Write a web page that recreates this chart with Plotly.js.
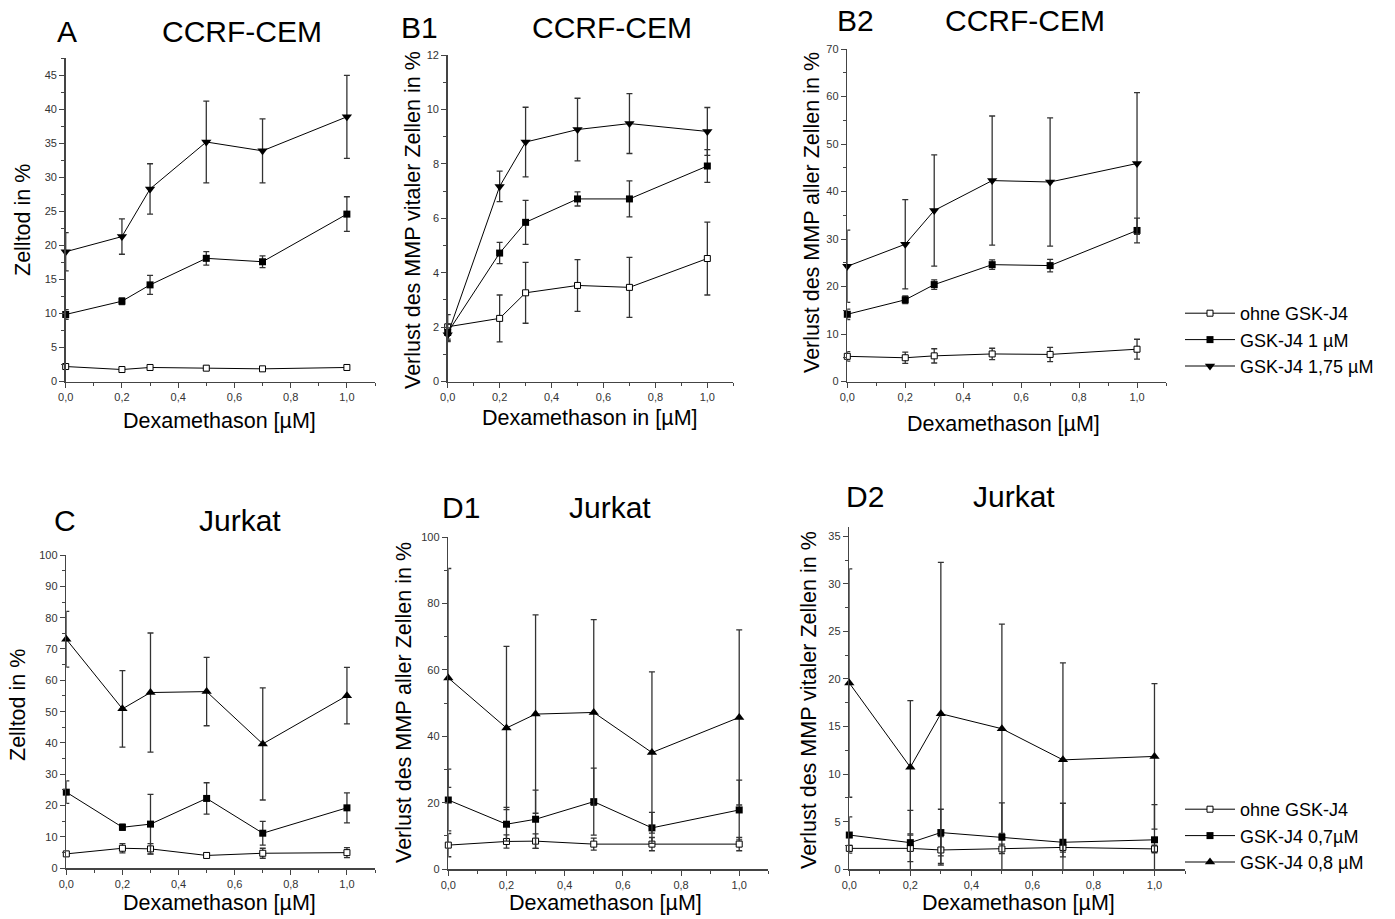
<!DOCTYPE html>
<html>
<head>
<meta charset="utf-8">
<script src="https://cdn.plot.ly/plotly-3.0.1.min.js"></script>
<style>html,body{margin:0;padding:0;background:#fff;}#chart{width:1395px;height:919px;}</style>
</head>
<body>
<div id="chart"></div>
<script>
// ---------- data ----------
const dexa = [0, 0.2, 0.3, 0.5, 0.7, 1.0];

// Panel A: CCRF-CEM, Zelltod
const A_ohne = [2.2, 1.76, 2.06, 1.96, 1.86, 2.06];
const A_ohne_err = [0.3, 0.25, 0.3, 0.3, 0.25, 0.3];
const A_gsk1 = [9.85, 11.8, 14.2, 18.1, 17.6, 24.6];
const A_gsk1_err = [0.7, 0.5, 1.4, 1.0, 0.85, 2.55];
const A_gsk175 = [19.07, 21.3, 28.3, 35.2, 33.9, 38.9];
const A_gsk175_err = [2.8, 2.6, 3.7, 6.0, 4.7, 6.1];

// Panel B1: CCRF-CEM, MMP vitaler Zellen
const B1_ohne = [2.01, 2.32, 3.26, 3.53, 3.46, 4.52];
const B1_ohne_err = [0.45, 0.86, 1.12, 0.95, 1.1, 1.34];
const B1_gsk1 = [1.8, 4.72, 5.85, 6.71, 6.71, 7.92];
const B1_gsk1_err = [0.3, 0.39, 0.81, 0.26, 0.66, 0.6];
const B1_gsk175 = [1.72, 7.17, 8.80, 9.26, 9.48, 9.19];
const B1_gsk175_err = [0.25, 0.56, 1.28, 1.15, 1.1, 0.88];

// Panel B2: CCRF-CEM, MMP aller Zellen
const B2_ohne = [5.3, 5.0, 5.4, 5.8, 5.7, 6.8];
const B2_ohne_err = [1.0, 1.2, 1.5, 1.2, 1.5, 2.1];
const B2_gsk1 = [14.15, 17.2, 20.4, 24.6, 24.4, 31.8];
const B2_gsk1_err = [1.1, 0.8, 1.0, 1.0, 1.3, 2.6];
const B2_gsk175 = [24.25, 28.9, 36.0, 42.3, 42.0, 45.9];
const B2_gsk175_err = [7.6, 9.4, 11.7, 13.6, 13.5, 14.9];

// Panel C: Jurkat, Zelltod
const C_ohne = [4.6, 6.4, 6.2, 4.1, 4.8, 5.0];
const C_ohne_err = [0.5, 1.5, 1.7, 0.7, 1.6, 1.6];
const C_gsk07 = [24.3, 13.1, 14.1, 22.3, 11.2, 19.3];
const C_gsk07_err = [3.6, 1.0, 9.5, 5.0, 3.8, 4.8];
const C_gsk08 = [73.1, 50.9, 56.1, 56.4, 39.7, 55.1];
const C_gsk08_err = [8.9, 12.2, 19.0, 10.9, 17.9, 9.0];

// Panel D1: Jurkat, MMP aller Zellen
const D1_ohne = [7.2, 8.3, 8.4, 7.5, 7.5, 7.5];
const D1_ohne_err = [3.5, 2.0, 2.2, 1.8, 2.0, 2.0];
const D1_gsk07 = [20.8, 13.5, 15.0, 20.3, 12.4, 17.8];
const D1_gsk07_err = [9.3, 5.1, 8.8, 10.1, 4.7, 9.0];
const D1_gsk08 = [57.6, 42.5, 46.7, 47.2, 35.1, 45.7];
const D1_gsk08_err = [33.0, 24.6, 29.9, 28.0, 24.3, 26.4];

// Panel D2: Jurkat, MMP vitaler Zellen
const D2_ohne = [2.2, 2.2, 2.03, 2.14, 2.3, 2.14];
const D2_ohne_err = [0.3, 1.4, 1.4, 0.5, 0.5, 0.4];
const D2_gsk07 = [3.6, 2.8, 3.86, 3.37, 2.84, 3.1];
const D2_gsk07_err = [1.9, 3.4, 2.45, 3.6, 4.1, 3.7];
const D2_gsk08 = [19.57, 10.73, 16.35, 14.77, 11.5, 11.86];
const D2_gsk08_err = [12.0, 7.0, 15.9, 11.0, 10.2, 7.64];

const namesTop = ['ohne GSK-J4', 'GSK-J4 1 \u00b5M', 'GSK-J4 1,75 \u00b5M'];
const namesBottom = ['ohne GSK-J4', 'GSK-J4 0,7\u00b5M', 'GSK-J4 0,8 \u00b5M'];

// ---------- layout helpers ----------
const W = 1395, H = 919;
const FONT = 'Liberation Sans, Arial, sans-serif';
const px = v => v / W;
const py = v => 1 - v / H;

const styles = {
  open:  {symbol: 'square', size: 6, color: '#ffffff', line: {color: '#000', width: 1}},
  fill:  {symbol: 'square', size: 7, color: '#000', line: {color: '#000', width: 0}},
  down:  {symbol: 'triangle-down', size: 9, color: '#000', line: {color: '#000', width: 0}},
  up:    {symbol: 'triangle-up', size: 9, color: '#000', line: {color: '#000', width: 0}}
};

function trace(n, y, err, style, name, legend, show) {
  const sfx = n === 1 ? '' : String(n);
  return {
    type: 'scatter', mode: 'lines+markers', x: dexa, y: y,
    xaxis: 'x' + sfx, yaxis: 'y' + sfx,
    name: name, legend: legend, showlegend: show,
    cliponaxis: false,
    line: {color: '#000', width: 1},
    marker: styles[style],
    error_y: {type: 'data', array: err, visible: true, color: '#333', thickness: 1.3, width: 3}
  };
}

const data = [
  trace(1, A_ohne, A_ohne_err, 'open', namesTop[0], 'legend', false),
  trace(1, A_gsk1, A_gsk1_err, 'fill', namesTop[1], 'legend', false),
  trace(1, A_gsk175, A_gsk175_err, 'down', namesTop[2], 'legend', false),
  trace(2, B1_ohne, B1_ohne_err, 'open', namesTop[0], 'legend', false),
  trace(2, B1_gsk1, B1_gsk1_err, 'fill', namesTop[1], 'legend', false),
  trace(2, B1_gsk175, B1_gsk175_err, 'down', namesTop[2], 'legend', false),
  trace(3, B2_ohne, B2_ohne_err, 'open', namesTop[0], 'legend', true),
  trace(3, B2_gsk1, B2_gsk1_err, 'fill', namesTop[1], 'legend', true),
  trace(3, B2_gsk175, B2_gsk175_err, 'down', namesTop[2], 'legend', true),
  trace(4, C_ohne, C_ohne_err, 'open', namesBottom[0], 'legend2', false),
  trace(4, C_gsk07, C_gsk07_err, 'fill', namesBottom[1], 'legend2', false),
  trace(4, C_gsk08, C_gsk08_err, 'up', namesBottom[2], 'legend2', false),
  trace(5, D1_ohne, D1_ohne_err, 'open', namesBottom[0], 'legend2', false),
  trace(5, D1_gsk07, D1_gsk07_err, 'fill', namesBottom[1], 'legend2', false),
  trace(5, D1_gsk08, D1_gsk08_err, 'up', namesBottom[2], 'legend2', false),
  trace(6, D2_ohne, D2_ohne_err, 'open', namesBottom[0], 'legend2', true),
  trace(6, D2_gsk07, D2_gsk07_err, 'fill', namesBottom[1], 'legend2', true),
  trace(6, D2_gsk08, D2_gsk08_err, 'up', namesBottom[2], 'legend2', true)
];

function xax(n, left, right) {
  const sfx = n === 1 ? '' : String(n);
  return {
    domain: [px(left), px(right)], anchor: 'y' + sfx, range: [0, 1.1],
    showline: true, linecolor: '#444', linewidth: 1.5, showgrid: false, zeroline: false,
    ticks: 'outside', ticklen: 5, tickwidth: 1, tickcolor: '#444',
    dtick: 0.2, tick0: 0, tickformat: '.1f',
    minor: {ticks: 'outside', ticklen: 3, dtick: 0.1, tick0: 0, tickcolor: '#444', showgrid: false},
    tickfont: {family: FONT, size: 11, color: '#333'}
  };
}
function yax(n, bottom, top, range, dtick, mdtick) {
  const sfx = n === 1 ? '' : String(n);
  return {
    domain: [py(bottom), py(top)], anchor: 'x' + sfx, range: range,
    showline: true, linecolor: '#444', linewidth: 1.5, showgrid: false, zeroline: false,
    ticks: 'outside', ticklen: 5, tickwidth: 1, tickcolor: '#444',
    dtick: dtick, tick0: 0,
    minor: {ticks: 'outside', ticklen: 3, dtick: mdtick, tick0: 0, tickcolor: '#444', showgrid: false},
    tickfont: {family: FONT, size: 11, color: '#333'}
  };
}

function ann(text, x, y, size, angle) {
  return {text: text, x: px(x), y: py(y), xref: 'paper', yref: 'paper',
    xanchor: 'center', yanchor: 'middle', showarrow: false, textangle: angle || 0,
    font: {family: FONT, size: size, color: '#000'}};
}

const annotations = [
  ann('A', 67, 32, 30), ann('CCRF-CEM', 242, 32, 30),
  ann('B1', 419, 28, 30), ann('CCRF-CEM', 612, 28, 30),
  ann('B2', 856, 20, 30), ann('CCRF-CEM', 1025, 20, 30),
  ann('C', 65, 520, 30), ann('Jurkat', 240, 520, 30),
  ann('D1', 461, 507, 30), ann('Jurkat', 610, 507, 30),
  ann('D2', 865, 497, 30), ann('Jurkat', 1014, 497, 30),
  // axis titles
  ann('Dexamethason [\u00b5M]', 220, 421, 21.5),
  ann('Dexamethason in [\u00b5M]', 590, 418, 21.5),
  ann('Dexamethason [\u00b5M]', 1003, 424, 21.5),
  ann('Dexamethason [\u00b5M]', 220, 903, 21.5),
  ann('Dexamethason [\u00b5M]', 605, 903, 21.5),
  ann('Dexamethason [\u00b5M]', 1018, 903, 21.5),
  ann('Zelltod in %', 23, 220, 21.5, -90),
  ann('Verlust des MMP vitaler Zellen in %', 413, 220, 21.5, -90),
  ann('Verlust des MMP aller Zellen in %', 812, 213, 21.5, -90),
  ann('Zelltod in %', 18, 705, 21.5, -90),
  ann('Verlust des MMP aller Zellen in %', 404, 703, 21.5, -90),
  ann('Verlust des MMP vitaler Zellen in %', 809, 700, 21.5, -90)
];

const layout = {
  width: W, height: H,
  margin: {l: 0, r: 0, t: 0, b: 0},
  paper_bgcolor: '#fff', plot_bgcolor: '#fff',
  separators: ',.',
  font: {family: FONT, color: '#000'},
  xaxis: xax(1, 65.7, 375), yaxis: yax(1, 381.5, 58.3, [0, 47.5], 5, 2.5),
  xaxis2: xax(2, 447.7, 733.3), yaxis2: yax(2, 381.5, 55, [0, 12], 2, 1),
  xaxis3: xax(3, 847.3, 1166), yaxis3: yax(3, 381.5, 49, [0, 70], 10, 5),
  xaxis4: xax(4, 66.3, 375), yaxis4: yax(4, 868.3, 555, [0, 100], 10, 5),
  xaxis5: xax(5, 448.3, 768.3), yaxis5: yax(5, 869, 537.3, [0, 100], 20, 10),
  xaxis6: xax(6, 849.3, 1185), yaxis6: yax(6, 869.3, 526.7, [0, 36], 5, 2.5),
  legend: {x: px(1180), y: py(295), xanchor: 'left', yanchor: 'top', itemwidth: 50,
    font: {family: FONT, size: 18, color: '#000'}, bgcolor: 'rgba(0,0,0,0)', traceorder: 'normal'},
  legend2: {x: px(1180), y: py(791), xanchor: 'left', yanchor: 'top', itemwidth: 50,
    font: {family: FONT, size: 18, color: '#000'}, bgcolor: 'rgba(0,0,0,0)', traceorder: 'normal'},
  annotations: annotations,
  showlegend: true
};

Plotly.newPlot('chart', data, layout, {displayModeBar: false, staticPlot: true});
</script>
</body>
</html>
